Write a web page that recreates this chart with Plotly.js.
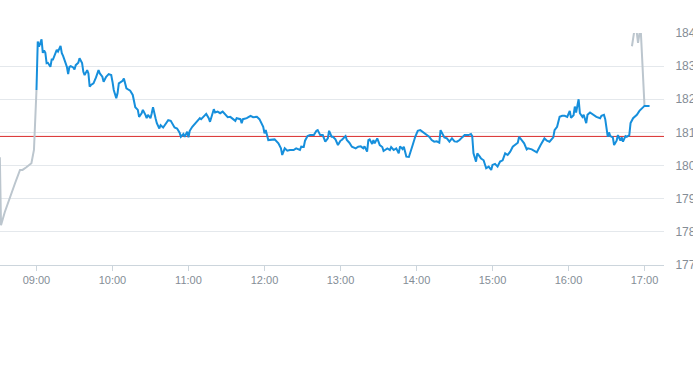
<!DOCTYPE html>
<html>
<head>
<meta charset="utf-8">
<script src="https://cdn.plot.ly/plotly-3.0.1.min.js"></script>
<style>html,body{margin:0;padding:0;background:#fff;}#chart{width:693px;height:365px;}</style>
</head>
<body>
<div id="chart"></div>
<script>
// Day of trading (date part used only for the time axis)
const tradeDate = '2024-05-10';
const prevClose = 180.88;

// Pre-market (grey)
const preTimes = ['08:31:05','08:32','08:35','08:39','08:43','08:47','08:49','08:52','08:56','08:58','08:59','09:00'];
const prePrices = [180.25,178.20,178.60,179.06,179.46,179.87,179.87,179.95,180.07,180.47,181.20,182.28];

// Regular session (blue)
const regTimes = ['09:00','09:01','09:02','09:03','09:04','09:05','09:06','09:07','09:08','09:09','09:11','09:12','09:13','09:15','09:16','09:17','09:19','09:20','09:21','09:23','09:24','09:25','09:26','09:27','09:29','09:30','09:31','09:33','09:34','09:36','09:37','09:38','09:40','09:41','09:42','09:43','09:45','09:47','09:49','09:50','09:52','09:53','09:55','09:57','09:59',
'10:00','10:01','10:03','10:04','10:05','10:07','10:08','10:09','10:11','10:13','10:14','10:16','10:17','10:18','10:20','10:21','10:23','10:24','10:26','10:27','10:28','10:30','10:31','10:32','10:34','10:35','10:37','10:38','10:40','10:42','10:44','10:46','10:48','10:49','10:51','10:53','10:54','10:56','10:57','10:59',
'11:00','11:01','11:03','11:05','11:07','11:09','11:10','11:12','11:14','11:16','11:17','11:20','11:21','11:23','11:25','11:27','11:29','11:31','11:33','11:35','11:37','11:38','11:41','11:42','11:43','11:46','11:49','11:51','11:54','11:56','11:58','11:59',
'12:00','12:01','12:03','12:06','12:08','12:11','12:13','12:14','12:16','12:18','12:20','12:23','12:25','12:28','12:29','12:31','12:32','12:34','12:36','12:39','12:41','12:42','12:44','12:46','12:48','12:50','12:51','12:53','12:54','12:56','12:57','12:58',
'13:00','13:01','13:04','13:05','13:07','13:09','13:12','13:14','13:16','13:18','13:19','13:21','13:22','13:23','13:25','13:26','13:27','13:29','13:30','13:31','13:33','13:34','13:37','13:39','13:40','13:42','13:44','13:46','13:47','13:49','13:50','13:52','13:54','13:55','13:57','13:59',
'14:01','14:03','14:05','14:07','14:08','14:10','14:12','14:14','14:16','14:18','14:19','14:21','14:22','14:24','14:26','14:28','14:30','14:32','14:34','14:36','14:38','14:41','14:43','14:44','14:45','14:47','14:48','14:50','14:51','14:53','14:55','14:57','14:59',
'15:00','15:02','15:04','15:06','15:08','15:10','15:12','15:14','15:16','15:18','15:20','15:21','15:23','15:25','15:27','15:28','15:31','15:34','15:35','15:38','15:40','15:41','15:43','15:45','15:48','15:49','15:51','15:53','15:55','15:57','15:59',
'16:01','16:02','16:04','16:05','16:06','16:08','16:09','16:11','16:12','16:14','16:15','16:17','16:20','16:22','16:25','16:26','16:28','16:29','16:31','16:32','16:33','16:35','16:36','16:38','16:39','16:41','16:42','16:43','16:45','16:46','16:48','16:49','16:51','16:54','16:56','16:59',
'17:00','17:04'];
const regPrices = [182.28,183.74,183.59,183.71,183.81,183.40,183.47,183.40,183.09,183.10,182.98,183.20,183.20,183.39,183.49,183.44,183.61,183.39,183.31,183.09,182.98,182.76,182.98,183.00,182.96,182.90,183.03,183.10,183.24,183.09,182.83,182.73,182.88,182.78,182.38,182.43,182.48,182.66,182.88,182.78,182.68,182.53,182.68,182.76,182.73,
182.53,182.28,182.03,182.18,182.48,182.53,182.56,182.63,182.33,182.28,182.26,182.13,181.98,181.76,181.68,181.47,181.58,181.68,181.53,181.43,181.53,181.43,181.58,181.76,181.43,181.28,181.12,181.22,181.15,181.25,181.37,181.35,181.22,181.15,181.12,180.99,180.87,180.95,180.87,181.02,
180.85,181.05,181.17,181.25,181.32,181.43,181.40,181.47,181.56,181.43,181.32,181.70,181.60,181.63,181.58,181.63,181.53,181.46,181.47,181.40,181.35,181.43,181.40,181.28,181.40,181.43,181.50,181.46,181.47,181.40,181.25,181.17,
180.97,181.07,180.77,180.77,180.79,180.67,180.52,180.32,180.52,180.45,180.47,180.47,180.52,180.47,180.57,180.56,180.75,180.89,180.92,180.92,181.05,181.07,180.92,180.92,180.72,180.82,181.05,180.87,180.87,180.79,180.67,180.62,
180.75,180.77,180.89,180.77,180.69,180.57,180.52,180.57,180.58,180.52,180.58,180.42,180.77,180.79,180.65,180.77,180.67,180.82,180.72,180.62,180.56,180.44,180.52,180.47,180.56,180.47,180.52,180.37,180.58,180.50,180.57,180.27,180.26,180.40,180.62,180.87,
181.05,181.07,181.02,180.96,180.92,180.87,180.77,180.72,180.73,180.69,181.07,180.92,180.85,180.82,180.72,180.82,180.73,180.72,180.77,180.85,180.92,180.92,180.95,180.89,180.37,180.12,180.37,180.27,180.21,180.16,179.92,179.97,179.87,
180.02,180.05,179.97,180.12,180.16,180.37,180.32,180.42,180.57,180.62,180.69,180.87,180.75,180.67,180.49,180.52,180.49,180.42,180.40,180.62,180.73,180.82,180.75,180.72,180.85,181.07,181.17,181.47,181.50,181.50,181.47,
181.65,181.44,181.52,181.78,181.60,182.00,181.58,181.47,181.53,181.28,181.53,181.60,181.53,181.47,181.43,181.50,181.53,181.40,180.87,181.00,180.89,180.85,180.62,180.75,180.92,180.75,180.85,180.72,180.89,180.87,180.92,181.28,181.43,181.53,181.65,181.75,
181.80,181.80];

// After-hours (grey)
const postTimes = ['17:00:00','16:58:25','16:56:54','16:54:54','16:53:18','16:52:06','16:50:06'];
const postPrices = [181.80,183.30,184.20,183.70,184.20,184.10,183.60];

// Axis ticks
const tickLabels = ['09:00','10:00','11:00','12:00','13:00','14:00','15:00','16:00','17:00'];
const xStart = '08:31:12', xEnd = '17:15:24';

const ts = t => tradeDate + ' ' + (t.length === 5 ? t + ':00' : t);

const grey = '#bcc6ce', blue = '#168fdc';
const traces = [
  {x: preTimes.map(ts), y: prePrices, mode: 'lines', line: {color: grey, width: 2}, hoverinfo: 'skip'},
  {x: postTimes.map(ts), y: postPrices, mode: 'lines', line: {color: grey, width: 2}, hoverinfo: 'skip'},
  {x: regTimes.map(ts), y: regPrices, mode: 'lines', line: {color: blue, width: 2}, hoverinfo: 'skip'}
];

const layout = {
  width: 693, height: 365,
  margin: {l: 0, r: 29, t: 33, b: 100},
  paper_bgcolor: '#fff', plot_bgcolor: '#fff',
  showlegend: false,
  font: {family: '"Liberation Sans", Arial, sans-serif', size: 11, color: '#848d96'},
  xaxis: {
    type: 'date',
    range: [ts(xStart), ts(xEnd)],
    tickvals: tickLabels.map(ts), ticktext: tickLabels,
    showgrid: false, zeroline: false,
    showline: true, linecolor: '#ccd5dc', linewidth: 1,
    ticks: 'outside', ticklen: 5, tickcolor: '#ccd5dc',
    tickfont: {size: 11, color: '#848d96'}
  },
  yaxis: {
    range: [177, 184], dtick: 1, tick0: 177,
    side: 'right',
    showgrid: true, gridcolor: '#e4e8ec', gridwidth: 1,
    zeroline: false, showline: false,
    ticks: 'outside', ticklen: 8, tickcolor: 'rgba(0,0,0,0)',
    tickfont: {size: 12, color: '#848d96'}
  },
  shapes: [{
    type: 'line', xref: 'paper', x0: 0, x1: 1, yref: 'y', y0: prevClose, y1: prevClose,
    line: {color: '#d92b2b', width: 1}, layer: 'below'
  }]
};

Plotly.newPlot('chart', traces, layout, {displayModeBar: false, staticPlot: true});
</script>
</body>
</html>
